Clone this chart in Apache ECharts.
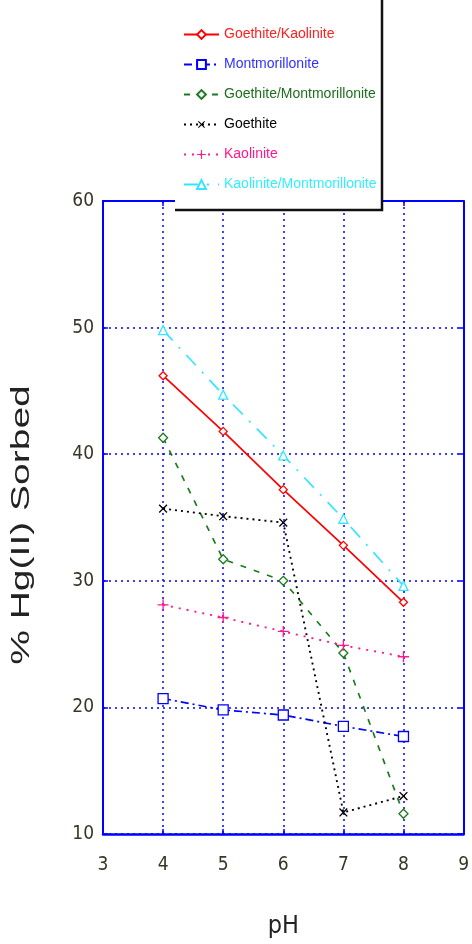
<!DOCTYPE html>
<html>
<head>
<meta charset="utf-8">
<script src="https://cdn.jsdelivr.net/npm/echarts@6/dist/echarts.min.js"></script>
<style>
html,body{margin:0;padding:0;background:#fff;}
#chart{width:472px;height:944px;}
</style>
</head>
<body>
<div id="chart"></div>
<script>
const pH = [4, 5, 6, 7, 8];
const goethiteKaolinite = [46.2, 41.8, 37.2, 32.8, 28.3];
const montmorillonite = [20.7, 19.8, 19.4, 18.5, 17.7];
const goethiteMontmorillonite = [41.3, 31.7, 30.0, 24.3, 11.6];
const goethite = [35.7, 35.1, 34.6, 11.7, 13.0];
const kaolinite = [28.1, 27.1, 26.0, 24.9, 24.0];
const kaoliniteMontmorillonite = [49.8, 44.7, 39.9, 34.9, 29.6];
const seriesNames = ['Goethite/Kaolinite', 'Montmorillonite', 'Goethite/Montmorillonite', 'Goethite', 'Kaolinite', 'Kaolinite/Montmorillonite'];
const xTitle = 'pH';
const yTitle = '% Hg(II) Sorbed';

const NARROW = "'Liberation Sans Narrow', 'DejaVu Sans Condensed', 'Liberation Sans', sans-serif";
const ARIAL = "'Liberation Sans', Arial, sans-serif";
const BLUE = '#0000ff';
const pts = arr => pH.map((x, i) => [x, arr[i]]);
const PLUS = 'path://M4.4,0H5.6V4.4H10V5.6H5.6V10H4.4V5.6H0V4.4H4.4Z';

function mk(name, data, color, type, width, symbol, size, filled, rotate) {
  return {
    name, type: 'line', data: pts(data),
    symbol, symbolSize: size, symbolRotate: rotate || 0,
    lineStyle: { color, type, width },
    itemStyle: filled ? { color } : { color: '#fff', borderColor: color, borderWidth: 1.3 },
    z: 3
  };
}

const colors = ['#ff0000', '#0000ff', '#1e7a1e', '#000000', '#ff1a8c', '#33e6ff'];
const textColors = ['#ff2020', '#3030ff', '#1e6e1e', '#000000', '#ff1a8c', '#33eeff'];

const chart = echarts.init(document.getElementById('chart'));
chart.setOption({
  animation: false,
  backgroundColor: '#fff',
  grid: { left: 103, right: 5, top: 201, bottom: 107 },
  xAxis: [{
    type: 'value', min: 3, max: 9, interval: 1, position: 'bottom',
    name: xTitle, nameLocation: 'middle', nameGap: 80,
    nameTextStyle: { fontSize: 25, fontFamily: NARROW, color: '#222' },
    axisLine: { lineStyle: { color: BLUE, width: 2.5 } },
    axisTick: { inside: true, length: 5, lineStyle: { color: BLUE, width: 1.5 } },
    axisLabel: { fontSize: 19, fontFamily: NARROW, color: '#3a3526', margin: 22 },
    splitLine: { show: true, lineStyle: { color: BLUE, type: [2, 4], width: 1.5 } }
  }, {
    type: 'value', min: 3, max: 9, interval: 1, position: 'top',
    axisLine: { lineStyle: { color: BLUE, width: 2 } },
    axisTick: { inside: true, length: 5, lineStyle: { color: BLUE, width: 1.5 } },
    axisLabel: { show: false }, splitLine: { show: false }
  }],
  yAxis: [{
    type: 'value', min: 10, max: 60, interval: 10, position: 'left',
    axisLine: { lineStyle: { color: BLUE, width: 2 } },
    axisTick: { inside: true, length: 5, lineStyle: { color: BLUE, width: 1.5 } },
    axisLabel: { fontSize: 19, fontFamily: NARROW, color: '#3a3526', margin: 9 },
    splitLine: { show: true, lineStyle: { color: BLUE, type: [2, 4], width: 1.5 } }
  }, {
    type: 'value', min: 10, max: 60, interval: 10, position: 'right',
    axisLine: { lineStyle: { color: BLUE, width: 2 } },
    axisTick: { inside: true, length: 5, lineStyle: { color: BLUE, width: 1.5 } },
    axisLabel: { show: false }, splitLine: { show: false }
  }],
  legend: {
    orient: 'vertical', left: 178, top: 21,
    itemWidth: 35, itemHeight: 11, itemGap: 13,
    z: 20,
    textStyle: { fontSize: 14, lineHeight: 17, fontFamily: ARIAL },
    data: seriesNames.map((n, i) => ({ name: n, textStyle: { color: textColors[i] } }))
  },
  graphic: [
    { type: 'rect', z: 10, shape: { x: 175, y: -5, width: 207, height: 215 }, style: { fill: '#fff' } },
    { type: 'polyline', z: 11, shape: { points: [[382, -5], [382, 210], [175, 210]] }, style: { stroke: '#111', lineWidth: 2.5, fill: null } },
    { type: 'text', z: 12, x: 22, y: 525, rotation: Math.PI / 2, scaleX: 1.56,
      style: { text: yTitle, fontSize: 25, fontFamily: ARIAL, fill: '#222', align: 'center', verticalAlign: 'middle' } }
  ],
  series: [
    mk(seriesNames[0], goethiteKaolinite, colors[0], 'solid', 1.7, 'diamond', 8, false),
    mk(seriesNames[1], montmorillonite, colors[1], [8, 4, 2, 4], 1.7, 'rect', 10, false),
    mk(seriesNames[2], goethiteMontmorillonite, colors[2], [6, 8], 1.7, 'diamond', 9, false),
    mk(seriesNames[3], goethite, colors[3], [2, 4], 1.9, PLUS, 11, true, 45),
    mk(seriesNames[4], kaolinite, colors[4], [2, 6], 1.9, PLUS, 11, true),
    mk(seriesNames[5], kaoliniteMontmorillonite, colors[5], [14, 9, 2, 9], 1.7, 'triangle', 9, false)
  ]
});
</script>
</body>
</html>
